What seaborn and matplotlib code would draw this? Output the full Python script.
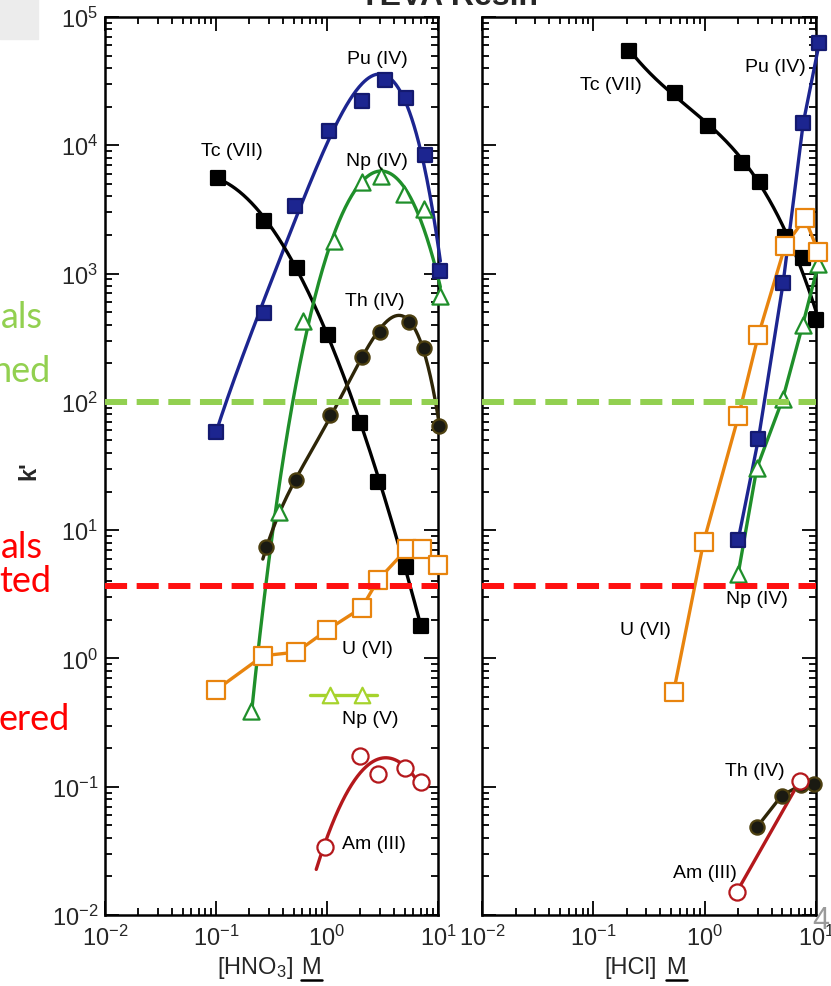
import numpy as np
import matplotlib
matplotlib.use("Agg")
import matplotlib.pyplot as plt
import seaborn as sns
from matplotlib.ticker import LogLocator, LogFormatterMathtext, NullFormatter
from matplotlib.lines import Line2D

# ---------------- data ----------------
# Left panel: [HNO3]
tc_hno3_x = [0.105, 0.27, 0.54, 1.03, 2.0, 2.9, 5.1, 7.0]
tc_hno3_k = [5560, 2570, 1106, 332, 68.5, 23.9, 5.14, 1.80]
pu_hno3_x = [0.099, 0.27, 0.52, 1.04, 2.08, 3.3, 5.2, 7.6, 10.5]
pu_hno3_k = [58.6, 493, 3383, 13000, 22270, 32450, 23240, 8400, 1054]
np4_hno3_x = [0.207, 0.368, 0.611, 1.15, 2.08, 3.05, 4.89, 7.41, 10.5]
np4_hno3_k = [0.388, 13.8, 430, 1804, 5150, 5800, 4170, 3190, 673]
th_hno3_x = [0.284, 0.531, 1.06, 2.05, 3.0, 5.5, 7.5, 10.25]
th_hno3_k = [7.36, 24.6, 79, 223, 349, 422, 262, 65.2]
u_hno3_x = [0.1006, 0.266, 0.531, 1.007, 2.05, 2.9, 5.24, 7.16, 9.9]
u_hno3_k = [0.569, 1.05, 1.12, 1.67, 2.48, 4.11, 7.13, 7.13, 5.38]
np5_hno3_x = [1.06, 2.08]
np5_hno3_k = [0.52, 0.52]
np5_line_x = [0.70, 2.85]
am_hno3_x = [0.957, 1.97, 2.9, 5.05, 7.0]
am_hno3_k = [0.0337, 0.172, 0.126, 0.139, 0.108]

# Right panel: [HCl]
tc_hcl_x = [0.211, 0.546, 1.08, 2.16, 3.15, 5.27, 7.68, 10.0]
tc_hcl_k = [54300, 25560, 14230, 7280, 5150, 1918, 1315, 434]
pu_hcl_x = [2.0, 3.04, 5.06, 7.68, 10.7]
pu_hcl_k = [8.4, 51.4, 837, 14920, 62700]
np4_hcl_x = [2.0, 2.94, 5.02, 7.59, 10.5]
np4_hcl_k = [4.56, 30.4, 105, 397, 1189]
u_hcl_x = [0.527, 0.977, 2.01, 3.04, 5.27, 7.96, 10.5]
u_hcl_k = [0.551, 8.05, 77.2, 332, 1640, 2700, 1466]
th_hcl_x = [2.94, 4.92, 7.33, 9.58]
th_hcl_k = [0.0483, 0.0853, 0.103, 0.105]
am_hcl_x = [1.95, 7.18]
am_hcl_k = [0.0152, 0.1116]

green_limit = 100.0
red_limit = 3.67

x_ticks = [1e-2, 1e-1, 1e0, 1e1]
y_ticks = [1e-2, 1e-1, 1e0, 1e1, 1e2, 1e3, 1e4, 1e5]

# ---------------- style ----------------
sns.set_style("ticks")
plt.rcParams["font.family"] = ["Liberation Sans", "DejaVu Sans"]
plt.rcParams["mathtext.default"] = "regular"

C_PU = "#1c2590"
C_TC = "#000000"
C_NP4 = "#1f8f2a"
C_TH = "#2e2608"
C_U = "#e8840e"
C_NP5 = "#a6d32c"
C_AM = "#b4181c"
C_GREEN = "#92d050"
C_RED = "#ff1010"

W, H = 831, 987
fig = plt.figure(figsize=(W / 100, H / 100), dpi=100)


def fx(px):
    return px / W


def fy(py):
    return 1 - py / H


top, bot = 18, 916
axL = fig.add_axes([fx(105), fy(bot), (438 - 105) / W, (bot - top) / H])
axR = fig.add_axes([fx(482), fy(bot), (816 - 482) / W, (bot - top) / H])


def fit_curve(x, y, deg, x0, x1, n=300):
    lx, ly = np.log10(x), np.log10(y)
    c = np.polyfit(lx, ly, deg)
    xs = np.linspace(np.log10(x0), np.log10(x1), n)
    return 10 ** xs, 10 ** np.polyval(c, xs)


def line(ax, x, y, color, lw=2.4, z=3):
    sns.lineplot(x=np.asarray(x), y=np.asarray(y), ax=ax, color=color, lw=lw,
                 sort=False, estimator=None, zorder=z, clip_on=False)


def pts(ax, x, y, marker, face, edge, s=115, lw=1.6, z=5):
    sns.scatterplot(x=np.asarray(x), y=np.asarray(y), ax=ax, marker=marker, s=s,
                    color=face, edgecolor=edge, linewidth=lw, zorder=z,
                    clip_on=False, legend=False)


for ax in (axL, axR):
    ax.set_xscale("log")
    ax.set_yscale("log")

# ---- left panel ----
xs, ys = fit_curve(pu_hno3_x, pu_hno3_k, 4, pu_hno3_x[0], pu_hno3_x[-1])
line(axL, xs, ys, C_PU)
xs, ys = fit_curve(tc_hno3_x, tc_hno3_k, 3, tc_hno3_x[0], tc_hno3_x[-1])
line(axL, xs, ys, C_TC)
xs, ys = fit_curve(np4_hno3_x, np4_hno3_k, 4, np4_hno3_x[0], np4_hno3_x[-1])
line(axL, xs, ys, C_NP4)
xs, ys = fit_curve(th_hno3_x, th_hno3_k, 4, th_hno3_x[0] * 0.93, th_hno3_x[-1])
line(axL, xs, ys, C_TH)
line(axL, u_hno3_x, u_hno3_k, C_U)
line(axL, np5_line_x, [np5_hno3_k[0]] * 2, C_NP5)
xs, ys = fit_curve(am_hno3_x, am_hno3_k, 2, 0.80, am_hno3_x[-1])
line(axL, xs, ys, C_AM)

pts(axL, pu_hno3_x, pu_hno3_k, "s", C_PU, "#141a70")
pts(axL, tc_hno3_x, tc_hno3_k, "s", "black", "black")
pts(axL, np4_hno3_x, np4_hno3_k, "^", "white", C_NP4, s=135)
pts(axL, th_hno3_x, th_hno3_k, "o", "#1a1a12", "#4d4010", s=105)
pts(axL, u_hno3_x, u_hno3_k, "s", "white", C_U, s=155)
pts(axL, np5_hno3_x, np5_hno3_k, "^", "white", C_NP5, s=125)
pts(axL, am_hno3_x, am_hno3_k, "o", "white", C_AM, s=135)

# ---- right panel ----
xs, ys = fit_curve(tc_hcl_x, tc_hcl_k, 3, tc_hcl_x[0], tc_hcl_x[-1])
line(axR, xs, ys, C_TC)
line(axR, pu_hcl_x, pu_hcl_k, C_PU)
line(axR, np4_hcl_x, np4_hcl_k, C_NP4)
line(axR, u_hcl_x, u_hcl_k, C_U)
line(axR, th_hcl_x, th_hcl_k, C_TH)
line(axR, am_hcl_x, am_hcl_k, C_AM)

pts(axR, tc_hcl_x, tc_hcl_k, "s", "black", "black")
pts(axR, pu_hcl_x, pu_hcl_k, "s", C_PU, "#141a70")
pts(axR, np4_hcl_x, np4_hcl_k, "^", "white", C_NP4, s=135)
pts(axR, u_hcl_x, u_hcl_k, "s", "white", C_U, s=155)
pts(axR, th_hcl_x, th_hcl_k, "o", "#1a1a12", "#4d4010", s=105)
pts(axR, am_hcl_x, am_hcl_k, "o", "white", C_AM, s=135)

# ---- dashed limits & axes styling ----
for ax in (axL, axR):
    ax.axhline(green_limit, color=C_GREEN, lw=4.3, dashes=(3.7, 1.6), zorder=8)
    ax.axhline(red_limit, color=C_RED, lw=4.3, dashes=(3.7, 1.6), zorder=8)
    ax.set_xlim(1e-2, 1e1)
    ax.set_ylim(1e-2, 1e5)
    ax.xaxis.set_major_locator(LogLocator(base=10, numticks=10))
    ax.yaxis.set_major_locator(LogLocator(base=10, numticks=10))
    ax.xaxis.set_minor_locator(LogLocator(base=10, subs=np.arange(2, 10), numticks=20))
    ax.yaxis.set_minor_locator(LogLocator(base=10, subs=np.arange(2, 10), numticks=20))
    ax.xaxis.set_major_formatter(LogFormatterMathtext())
    ax.yaxis.set_major_formatter(LogFormatterMathtext())
    ax.xaxis.set_minor_formatter(NullFormatter())
    ax.yaxis.set_minor_formatter(NullFormatter())
    ax.set_xticks(x_ticks)
    ax.set_yticks(y_ticks)
    ax.tick_params(which="both", direction="in", top=True, right=True,
                   color="black", width=1.3)
    ax.tick_params(which="major", length=10, labelsize=17, pad=7)
    ax.tick_params(which="minor", length=5)
    for sp in ax.spines.values():
        sp.set_linewidth(1.8)
        sp.set_color("black")
    ax.set_xlabel("")
    ax.set_ylabel("")
    ax.set_facecolor("white")

axL.tick_params(axis="y", which="major", pad=5)
axR.tick_params(axis="y", labelleft=False)

# ---- series labels ----
lab_kw = dict(fontsize=14, ha="center", va="center", color="black")
labels_left = [("Pu (IV)", 377, 60), ("Tc (VII)", 232, 152), ("Np (IV)", 377, 161),
               ("Th (IV)", 375, 302), ("U (VI)", 367, 649), ("Np (V)", 370, 720),
               ("Am (III)", 374, 845)]
labels_right = [("Tc (VII)", 611, 86), ("Pu (IV)", 775, 67), ("Np (IV)", 757, 599),
                ("U (VI)", 645, 631), ("Th (IV)", 755, 772), ("Am (III)", 705, 873)]
for t, x, y in labels_left + labels_right:
    fig.text(fx(x), fy(y), t, **lab_kw)

# ---- axis labels ----
fig.text(fx(29), fy(471), "k'", rotation=90, fontsize=17, fontweight="bold",
         ha="center", va="center")
fig.text(fx(255), fy(968), "[HNO$_3$]", fontsize=17, ha="center", va="center")
fig.text(fx(311), fy(968), "M", fontsize=17, ha="center", va="center")
fig.add_artist(Line2D([fx(301), fx(322)], [fy(981), fy(981)], color="black", lw=1.8))
fig.text(fx(631), fy(968), "[HCl]", fontsize=17, ha="center", va="center")
fig.text(fx(676), fy(968), "M", fontsize=17, ha="center", va="center")
fig.add_artist(Line2D([fx(666), fx(687)], [fy(981), fy(981)], color="black", lw=1.8))

# ---- slide remnants ----
fig.add_artist(plt.Rectangle((0, fy(40)), fx(38), 40 / H, color="#ececec", zorder=0))
fig.text(fx(449), fy(5), "TEVA Resin", fontsize=23, fontweight="bold",
         ha="center", va="baseline")
slide_kw = dict(fontsize=26, family=["Lato", "DejaVu Sans"], va="center", ha="left")
fig.text(fx(1), fy(318), "als", color=C_GREEN, **slide_kw)
fig.text(fx(-8), fy(371), "hed", color=C_GREEN, **slide_kw)
fig.text(fx(1), fy(548), "als", color="#ff0000", **slide_kw)
fig.text(fx(-1), fy(582), "ted", color="#ff0000", **slide_kw)
fig.text(fx(-1), fy(720), "ered", color="#ff0000", **slide_kw)
fig.text(fx(812), fy(921), "4", color="#9a9a9a", fontsize=22, ha="left", va="center")

fig.savefig("out.png", dpi=100)
